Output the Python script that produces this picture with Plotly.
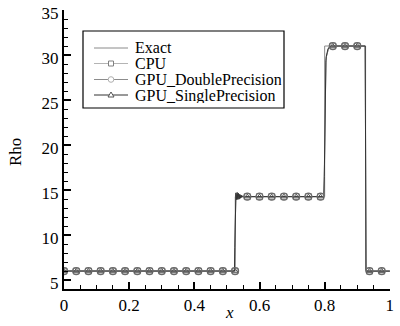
import plotly.graph_objects as go

# ---------------- data ----------------
x_exact = [0.0, 0.5256, 0.5256, 0.8, 0.8, 0.9256, 0.9256, 1.0]
rho_exact = [5.9992, 5.9992, 14.2823, 14.2823, 31.0426, 31.0426, 5.9924, 5.9924]

x_num = [0.0, 0.5231, 0.5244, 0.5256, 0.5275, 0.5295, 0.5315, 0.5335, 0.5355,
         0.5375, 0.5395, 0.5415, 0.5435, 0.5455, 0.548, 0.552,
         0.556, 0.7963, 0.7975, 0.7988, 0.8, 0.8013, 0.8025, 0.8038, 0.805,
         0.8075, 0.81, 0.8125, 0.815, 0.82, 0.9244, 0.9256, 0.9269, 0.93, 1.0]
rho_cpu = [5.9992, 5.9992, 9.0, 13.9, 14.5, 14.05, 14.55, 14.05, 14.5,
           14.1, 14.45, 14.15, 14.4, 14.2, 14.32, 14.27,
           14.28, 14.28, 14.35, 16.0, 21.0, 25.8, 28.2, 29.2, 29.8,
           30.3, 30.65, 30.85, 30.95, 31.04, 31.04, 18.0, 6.2, 5.9924, 5.9924]
rho_gpu_double = [5.9992, 5.9992, 9.0, 13.9, 14.5, 14.05, 14.55, 14.05, 14.5,
                  14.1, 14.45, 14.15, 14.4, 14.2, 14.32, 14.27,
                  14.28, 14.28, 14.35, 16.0, 21.0, 25.8, 28.2, 29.2, 29.8,
                  30.3, 30.65, 30.85, 30.95, 31.04, 31.04, 18.0, 6.2, 5.9924, 5.9924]
rho_gpu_single = [5.9992, 5.9992, 8.6, 13.8, 14.7, 13.95, 14.75, 13.95, 14.65,
                  14.0, 14.55, 14.1, 14.45, 14.2, 14.35, 14.26,
                  14.28, 14.28, 14.4, 16.5, 22.0, 26.5, 28.5, 29.4, 29.9,
                  30.4, 30.7, 30.85, 30.95, 31.04, 31.04, 18.5, 6.1, 5.9924, 5.9924]

x_mark = [0.0, 0.0375, 0.075, 0.1125, 0.15, 0.1875, 0.225, 0.2625, 0.3, 0.3375,
          0.375, 0.4125, 0.45, 0.4875, 0.525, 0.5625, 0.6, 0.6375, 0.675, 0.7125,
          0.75, 0.7875, 0.825, 0.8625, 0.9, 0.9375, 0.975]
rho_mark = [5.9992, 5.9992, 5.9992, 5.9992, 5.9992, 5.9992, 5.9992, 5.9992, 5.9992,
            5.9992, 5.9992, 5.9992, 5.9992, 5.9992, 5.9992, 14.28, 14.28, 14.28,
            14.28, 14.28, 14.28, 14.28, 31.04, 31.04, 31.04, 5.9924, 5.9924]

legend_names = ["Exact", "CPU", "GPU_DoublePrecision", "GPU_SinglePrecision"]

x_ticks = [0, 0.2, 0.4, 0.6, 0.8, 1]
x_ticklabels = ["0", "0.2", "0.4", "0.6", "0.8", "1"]
y_ticks = [5, 10, 15, 20, 25, 30, 35]

# ---------------- styling ----------------
FONT = "Times New Roman, Liberation Serif, serif"
W, H = 400, 326
ML, MR, MT, MB = 64, 10, 10, 37
PW, PH = W - ML - MR, H - MT - MB

c_exact = "#8a8a8a"
c_cpu = "#b4b4b4"
c_dbl = "#8c8c8c"
c_sgl = "#333333"


def px(xp):
    return (xp - ML) / PW


def py(yp):
    return (H - MB - yp) / PH


fig = go.Figure()

fig.add_trace(go.Scatter(x=x_exact, y=rho_exact, mode="lines",
                         line=dict(color=c_exact, width=1), showlegend=False))
fig.add_trace(go.Scatter(x=x_num, y=rho_cpu, mode="lines",
                         line=dict(color=c_cpu, width=1), showlegend=False))
fig.add_trace(go.Scatter(x=x_num, y=rho_gpu_double, mode="lines",
                         line=dict(color=c_dbl, width=1), showlegend=False))
fig.add_trace(go.Scatter(x=x_num, y=rho_gpu_single, mode="lines",
                         line=dict(color=c_sgl, width=1), showlegend=False))

fig.add_trace(go.Scatter(x=x_mark, y=rho_mark, mode="markers",
                         marker=dict(symbol="square-open", size=6, color="#7a7a7a",
                                     line=dict(width=1)), showlegend=False))
fig.add_trace(go.Scatter(x=x_mark, y=rho_mark, mode="markers",
                         marker=dict(symbol="circle-open", size=7, color="#6a6a6a",
                                     line=dict(width=1.3)), showlegend=False))
fig.add_trace(go.Scatter(x=x_mark, y=rho_mark, mode="markers",
                         marker=dict(symbol="triangle-up-open", size=5, color="#555555",
                                     line=dict(width=1)), showlegend=False))

# ---------------- manual legend ----------------
shapes = []
annotations = []
shapes.append(dict(type="rect", xref="paper", yref="paper",
                   x0=px(83), x1=px(284), y0=py(108), y1=py(31),
                   line=dict(color="black", width=1.2), fillcolor="white", layer="above"))
rows = [48, 63.5, 79.5, 95]
row_colors = [c_exact, c_cpu, c_dbl, c_sgl]
for name, yr, col in zip(legend_names, rows, row_colors):
    shapes.append(dict(type="line", xref="paper", yref="paper",
                       x0=px(94), x1=px(128), y0=py(yr), y1=py(yr),
                       line=dict(color=col, width=1), layer="above"))
    annotations.append(dict(text=name, xref="paper", yref="paper",
                            x=px(133), y=py(yr), xanchor="left", yanchor="middle",
                            height=15, valign="middle",
                            showarrow=False, font=dict(family=FONT, size=16, color="black")))
# legend marker glyphs
shapes.append(dict(type="rect", xref="paper", yref="paper", xsizemode="pixel",
                   ysizemode="pixel", xanchor=px(111), yanchor=py(rows[1]),
                   x0=-2.5, x1=2.5, y0=-2.5, y1=2.5,
                   line=dict(color="#808080", width=1), fillcolor="white", layer="above"))
shapes.append(dict(type="circle", xref="paper", yref="paper", xsizemode="pixel",
                   ysizemode="pixel", xanchor=px(111), yanchor=py(rows[2]),
                   x0=-2.8, x1=2.8, y0=-2.8, y1=2.8,
                   line=dict(color="#b0b0b0", width=1), fillcolor="white", layer="above"))
shapes.append(dict(type="path", xref="paper", yref="paper", xsizemode="pixel",
                   ysizemode="pixel", xanchor=px(111), yanchor=py(rows[3]),
                   path="M -3 -2 L 3 -2 L 0 3 Z",
                   line=dict(color="#555555", width=1), fillcolor="white", layer="above"))

# axis titles
annotations.append(dict(text="<i>x</i>", xref="paper", yref="paper",
                        x=px(229), y=py(312), xanchor="center", yanchor="middle",
                        showarrow=False, font=dict(family=FONT, size=17, color="black")))
annotations.append(dict(text="Rho", xref="paper", yref="paper", textangle=-90,
                        x=px(16), y=py(152), xanchor="center", yanchor="middle",
                        showarrow=False, font=dict(family=FONT, size=17, color="black")))

fig.update_layout(
    width=W, height=H,
    margin=dict(l=ML, r=MR, t=MT, b=MB, pad=0, autoexpand=False),
    paper_bgcolor="white", plot_bgcolor="white",
    font=dict(family=FONT, size=17, color="black"),
    showlegend=False,
    shapes=shapes, annotations=annotations,
)
fig.update_xaxes(range=[0, 1.0005], tickvals=x_ticks, ticktext=x_ticklabels,
                 ticks="inside", ticklen=7, tickwidth=1.5, tickcolor="black",
                 showline=True, linecolor="black", linewidth=2, showgrid=False,
                 zeroline=False, tickfont=dict(family=FONT, size=17, color="black"),
                 automargin=False, ticklabeloverflow="allow",
                 minor=dict(dtick=0.05, ticks="inside", ticklen=4, tickwidth=1,
                            tickcolor="black", showgrid=False))
fig.update_yaxes(range=[4, 35.05], tickvals=y_ticks,
                 ticks="inside", ticklen=7, tickwidth=1.5, tickcolor="black",
                 showline=True, linecolor="black", linewidth=2, showgrid=False,
                 zeroline=False, tickfont=dict(family=FONT, size=17, color="black"),
                 ticklabelshift=3, automargin=False, ticklabeloverflow="allow",
                 minor=dict(dtick=1, ticks="inside", ticklen=4, tickwidth=1,
                            tickcolor="black", showgrid=False))

fig.write_html("out.html")
